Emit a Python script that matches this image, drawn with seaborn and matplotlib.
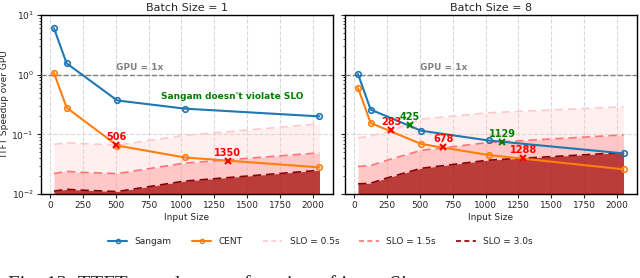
import numpy as np
import pandas as pd
import matplotlib
matplotlib.use("Agg")
import matplotlib.pyplot as plt
import seaborn as sns
from matplotlib.lines import Line2D

# input sizes
input_sizes = [32, 128, 512, 1024, 2048]
slo_sizes = [32, 128, 256, 512, 1024, 2048]

# batch size = 1
sangam_b1 = [6.0, 1.55, 0.37, 0.27, 0.20]
cent_b1 = [1.07, 0.28, 0.065, 0.041, 0.028]
slo05_b1 = [0.068, 0.072, 0.070, 0.066, 0.096, 0.15]
slo15_b1 = [0.022, 0.024, 0.023, 0.022, 0.033, 0.049]
slo30_b1 = [0.0112, 0.012, 0.0116, 0.011, 0.0165, 0.025]

# batch size = 8
sangam_b8 = [1.02, 0.26, 0.115, 0.079, 0.048]
cent_b8 = [0.60, 0.155, 0.069, 0.045, 0.026]
slo05_b8 = [0.087, 0.094, 0.11, 0.18, 0.23, 0.29]
slo15_b8 = [0.029, 0.030, 0.037, 0.054, 0.073, 0.098]
slo30_b8 = [0.0148, 0.0152, 0.0187, 0.027, 0.037, 0.0495]

# crossing points (input size, speedup, colour)
cross_b1 = [(506, 0.066, "red"), (1350, 0.036, "red")]
cross_b8 = [(283, 0.12, "red"), (425, 0.145, "green"), (678, 0.061, "red"),
            (1129, 0.075, "green"), (1288, 0.040, "red")]

sns.set_style("ticks")
plt.rcParams["font.family"] = ["DejaVu Sans"]

blue = "#1f77b4"
orange = "#ff7f0e"
slo_colors = ["#ffc9c9", "#ff7373", "#8b0000"]
fill_colors = ["#ffcccc", "#ff8080", "#a00000"]
fill_alpha = [0.3, 0.35, 0.7]

fig, axes = plt.subplots(1, 2, figsize=(6.4, 2.78), dpi=100, sharey=True)
fig.subplots_adjust(left=0.0636, right=0.995, top=0.946, bottom=0.302, wspace=0.041)

panels = [
    ("Batch Size = 1", sangam_b1, cent_b1, [slo05_b1, slo15_b1, slo30_b1], cross_b1),
    ("Batch Size = 8", sangam_b8, cent_b8, [slo05_b8, slo15_b8, slo30_b8], cross_b8),
]

for ax, (title, sangam, cent, slos, crosses) in zip(axes, panels):
    for slo, lc, fc, fa in zip(slos, slo_colors, fill_colors, fill_alpha):
        ax.fill_between(slo_sizes, 1e-2, slo, color=fc, alpha=fa, lw=0, zorder=1)
        sns.lineplot(x=slo_sizes, y=slo, ax=ax, color=lc, lw=1.2,
                     linestyle=(0, (5, 3)), zorder=2)
    sns.lineplot(x=input_sizes, y=sangam, ax=ax, color=blue, marker="o",
                 markersize=4, markerfacecolor="none", markeredgecolor=blue,
                 markeredgewidth=1.2, lw=1.5, zorder=4)
    sns.lineplot(x=input_sizes, y=cent, ax=ax, color=orange, marker="o",
                 markersize=4, markerfacecolor="none", markeredgecolor=orange,
                 markeredgewidth=1.2, lw=1.5, zorder=4)
    for cx, cy, c in crosses:
        ax.plot(cx, cy, marker="x", color=c, markersize=5, mew=1.5, zorder=5)
        ax.text(cx, cy * 1.12, str(cx), color=c, fontsize=7, fontweight="bold",
                ha="center", va="bottom", zorder=6)
    ax.axhline(1, color="gray", ls="--", lw=1, zorder=3)
    ax.text(680, 1.12, "GPU = 1x", color="gray", fontsize=6.5, fontweight="bold",
            ha="center", va="bottom")
    ax.set_yscale("log")
    ax.set_ylim(1e-2, 10)
    ax.set_xticks([0, 250, 500, 750, 1000, 1250, 1500, 1750, 2000])
    ax.grid(True, which="major", ls="--", color="#d0d0d0", lw=0.8, alpha=0.8)
    ax.set_title(title, fontsize=8, pad=3)
    ax.set_xlabel("Input Size", fontsize=6.5, labelpad=2)
    ax.tick_params(labelsize=6.5, length=3, pad=2)
    ax.tick_params(which="minor", length=1.5)
    for s in ax.spines.values():
        s.set_visible(True)
        s.set_color("black")
        s.set_linewidth(1)

axes[0].text(1387, 0.43, "Sangam doesn't violate SLO", color="green",
             fontsize=6.5, fontweight="bold", ha="center", va="center")
axes[0].set_ylabel("TTFT Speedup over GPU", fontsize=6.5, labelpad=2)
axes[1].tick_params(labelleft=False)

handles = [
    Line2D([], [], color=blue, marker="o", markersize=3, markerfacecolor="none", lw=1.5),
    Line2D([], [], color=orange, marker="o", markersize=3, markerfacecolor="none", lw=1.5),
    Line2D([], [], color=slo_colors[0], ls=(0, (3, 2)), lw=1.2),
    Line2D([], [], color=slo_colors[1], ls=(0, (3, 2)), lw=1.2),
    Line2D([], [], color=slo_colors[2], ls=(0, (3, 2)), lw=1.2),
]
labels = ["Sangam", "CENT", "SLO = 0.5s", "SLO = 1.5s", "SLO = 3.0s"]
fig.legend(handles, labels, ncol=5, loc="center", bbox_to_anchor=(0.5, 0.13),
           frameon=False, fontsize=6.5, handlelength=2.2, columnspacing=2.2)

# paper caption, clipped at the bottom edge as in the source screenshot
fig.text(0.012, 0.012, "Fig. 12: TTFT speedup as a function of input Size.",
         fontsize=15, family="Liberation Serif", va="top", ha="left")

fig.savefig("out.png", dpi=100)
